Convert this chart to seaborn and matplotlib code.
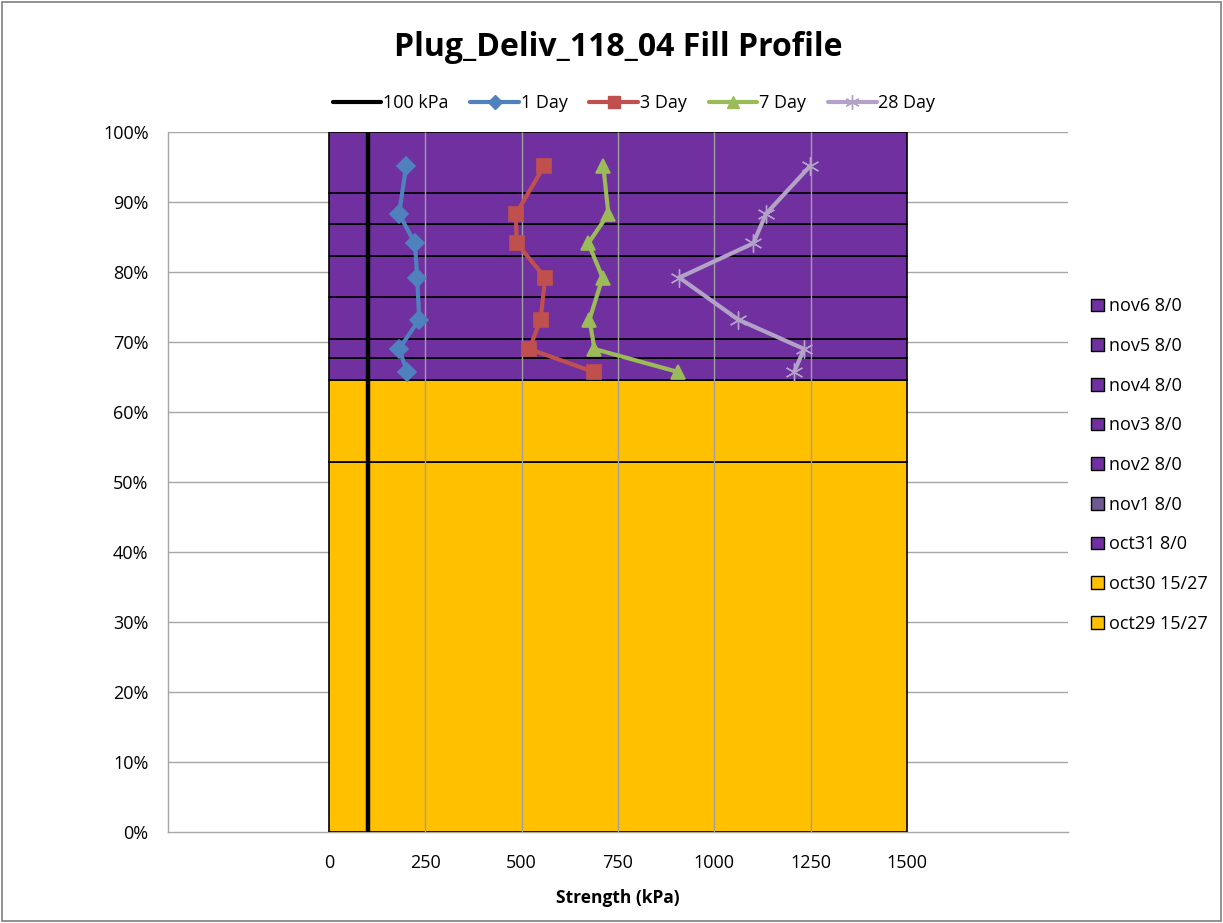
import matplotlib
matplotlib.use("Agg")
import matplotlib.pyplot as plt
from matplotlib.lines import Line2D
from matplotlib.patches import Patch, Rectangle
import seaborn as sns
import pandas as pd

# ---- data ----
layer_names = ["oct29 15/27", "oct30 15/27", "oct31 8/0", "nov1 8/0", "nov2 8/0",
               "nov3 8/0", "nov4 8/0", "nov5 8/0", "nov6 8/0"]
layer_thickness = [52.86, 11.71, 3.10, 2.76, 5.96, 5.94, 4.48, 4.43, 8.76]  # % of fill height
layer_colors = ["#FFC000", "#FFC000", "#7030A0", "#7030A0", "#7030A0",
                "#7030A0", "#7030A0", "#7030A0", "#7030A0"]
legend_colors = ["#FFC000", "#FFC000", "#7030A0", "#6F5A90", "#7030A0",
                 "#7030A0", "#7030A0", "#7030A0", "#7030A0"]
fill_width_kpa = 1500

depth_pct = [95.1, 88.3, 84.1, 79.2, 73.2, 69.0, 65.7]
day1 = [200, 182, 223, 229, 234, 182, 203]
day3 = [558, 485, 487, 561, 549, 520, 688]
day7 = [712, 725, 673, 710, 676, 689, 907]
day28 = [1248, 1134, 1101, 909, 1062, 1233, 1207]
threshold_kpa = 100

series = [("1 Day", day1, "#4F81BD", "D", 9),
          ("3 Day", day3, "#C0504D", "s", 10),
          ("7 Day", day7, "#9BBB59", "^", 10),
          ("28 Day", day28, "#B3A2C7", (6, 2, 0), 13)]

xticks = [0, 250, 500, 750, 1000, 1250, 1500]
yticks = [0, 10, 20, 30, 40, 50, 60, 70, 80, 90, 100]

# ---- figure ----
sns.set_style("white")
plt.rcParams["font.family"] = ["Open Sans", "DejaVu Sans"]
plt.rcParams["text.color"] = "black"

fig = plt.figure(figsize=(12.23, 9.23), dpi=100)
ax = fig.add_axes([168 / 1223, 1 - 832 / 923, 900 / 1223, 700 / 923])

# figure border
fig.patches.append(Rectangle((0.002, 0.002), 0.996, 0.996, transform=fig.transFigure,
                             fill=False, edgecolor="#7F7F7F", linewidth=1.2))

# horizontal gridlines behind
for yt in yticks[1:]:
    ax.axhline(yt, color="#A6A6A6", linewidth=1.0, zorder=0)

# stacked fill layers
bottom = 0
for name, h, c in zip(layer_names, layer_thickness, layer_colors):
    ax.bar(fill_width_kpa / 2, h, width=fill_width_kpa, bottom=bottom, color=c,
           edgecolor="black", linewidth=1.2, zorder=1)
    bottom += h

# vertical gridlines on top of bars
ax.vlines(xticks[1:-1], 0, 100, color="#A0A0A0", linewidth=1.0, zorder=2)

# threshold line
ax.vlines([threshold_kpa], 0, 100, color="black", linewidth=3.2, zorder=3)

# strength series
for label, vals, col, mk, ms in series:
    df = pd.DataFrame({"x": vals, "y": depth_pct})
    sns.lineplot(data=df, x="x", y="y", sort=False, estimator=None, color=col, marker=mk,
                 markersize=ms, markeredgecolor=col,
                 markeredgewidth=1.2 if label != "28 Day" else 1.0,
                 linewidth=3, ax=ax, zorder=4)

ax.set_xlim(-417.8, 1917.8)
ax.set_ylim(0, 100)
ax.set_xticks(xticks)
ax.set_xticklabels([str(t) for t in xticks], fontsize=13)
ax.set_yticks(yticks)
ax.set_yticklabels([f"{t}%" for t in yticks], fontsize=13)
ax.tick_params(axis="x", length=0, pad=16, labelcolor="black")
ax.tick_params(axis="y", length=0, pad=14, labelcolor="black")
for s in ["top", "right"]:
    ax.spines[s].set_visible(False)
for s in ["left", "bottom"]:
    ax.spines[s].set_color("#A6A6A6")
    ax.spines[s].set_linewidth(1.0)
    ax.spines[s].set_zorder(0)

ax.set_xlabel("Strength (kPa)", fontsize=12.5, fontweight="bold", labelpad=12, color="black")
ax.set_ylabel("")

fig.text(618 / 1223, 1 - 48 / 923, "Plug_Deliv_118_04 Fill Profile", ha="center", va="center",
         fontsize=23, fontweight="bold", color="black")

# top legend
handles = [Line2D([], [], color="black", linewidth=3, label="100 kPa")]
for label, vals, col, mk, ms in series:
    handles.append(Line2D([], [], color=col, linewidth=3, marker=mk, markersize=ms * 0.8,
                          markeredgecolor=col, label=label))
fig.legend(handles=handles, loc="center", bbox_to_anchor=(634 / 1223, 1 - 103 / 923),
           ncol=5, frameon=False, fontsize=13, handlelength=2.7, handletextpad=0.1,
           columnspacing=1.2)

# right legend
patches = [Patch(facecolor=c, edgecolor="black", linewidth=1.0, label=n)
           for n, c in zip(layer_names, legend_colors)][::-1]
fig.legend(handles=patches, loc="center left", bbox_to_anchor=(1075 / 1223, 1 - 465 / 923),
           frameon=False, fontsize=13, handlelength=0.7, handleheight=0.7,
           handletextpad=0.3, labelspacing=1.2)

fig.savefig("out.png", dpi=100)
